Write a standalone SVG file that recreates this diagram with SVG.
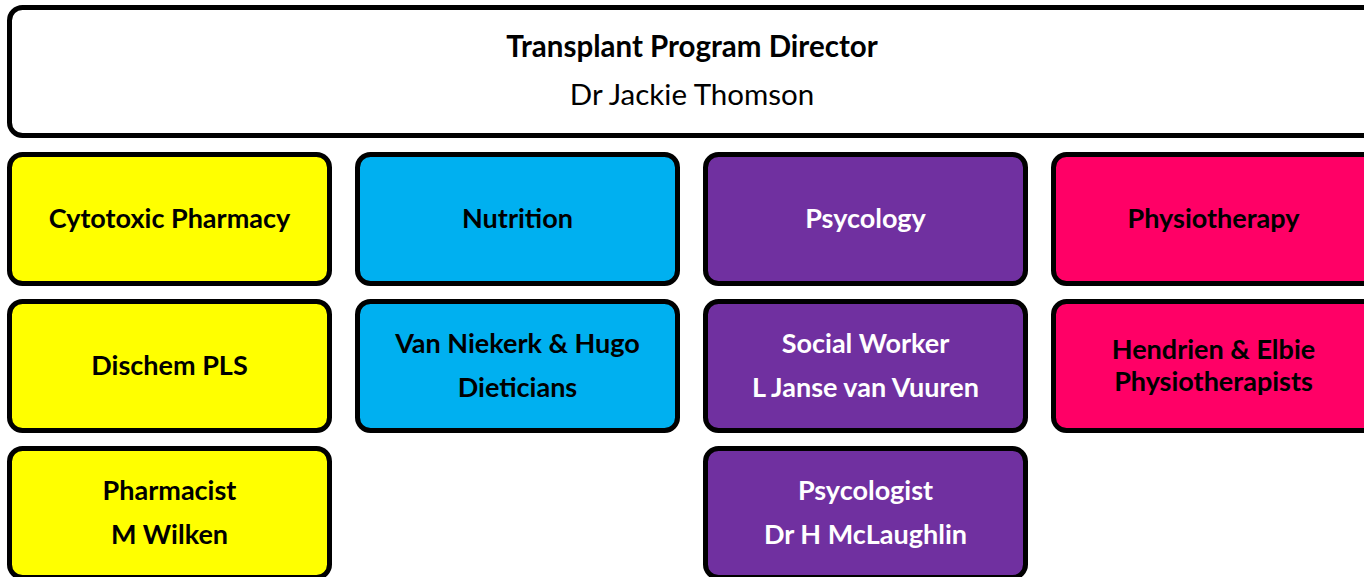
<svg xmlns="http://www.w3.org/2000/svg" width="1364" height="577" viewBox="0 0 1364 577">
<style>
.b{stroke:#000;stroke-width:5}
.t{font-family:Lato,"Open Sans","Liberation Sans",sans-serif;font-weight:bold;font-size:27px;text-anchor:middle}
.h{font-size:29.5px}
.n{font-weight:normal}
.k{fill:#000}.w{fill:#fff}
</style>
<rect width="1364" height="577" fill="#fff"/>
<g id="director">
<rect class="b" x="9.5" y="7.5" width="1380" height="128" rx="13" fill="#fff"/>
<text class="t h k" x="692" y="57">Transplant Program Director</text>
<text class="t h n k" x="692" y="105">Dr Jackie Thomson</text>
</g>
<g id="cytotoxic">
<rect class="b" x="9.5" y="154.5" width="320" height="129" rx="13" fill="#FFFF00"/>
<text class="t k" x="169.5" y="228">Cytotoxic Pharmacy</text>
</g>
<g id="dischem">
<rect class="b" x="9.5" y="301.5" width="320" height="129" rx="13" fill="#FFFF00"/>
<text class="t k" x="169.5" y="375">Dischem PLS</text>
</g>
<g id="pharmacist">
<rect class="b" x="9.5" y="448.5" width="320" height="129" rx="13" fill="#FFFF00"/>
<text class="t k" x="169.5" y="500">Pharmacist</text>
<text class="t k" x="169.5" y="544">M Wilken</text>
</g>
<g id="nutrition">
<rect class="b" x="357.5" y="154.5" width="320" height="129" rx="13" fill="#00B0F0"/>
<text class="t k" x="517.5" y="228">Nutrition</text>
</g>
<g id="dieticians">
<rect class="b" x="357.5" y="301.5" width="320" height="129" rx="13" fill="#00B0F0"/>
<text class="t k" x="517.5" y="353">Van Niekerk &amp; Hugo</text>
<text class="t k" x="517.5" y="397">Dieticians</text>
</g>
<g id="psycology">
<rect class="b" x="705.5" y="154.5" width="320" height="129" rx="13" fill="#7030A0"/>
<text class="t w" x="865.5" y="228">Psycology</text>
</g>
<g id="socialworker">
<rect class="b" x="705.5" y="301.5" width="320" height="129" rx="13" fill="#7030A0"/>
<text class="t w" x="865.5" y="353">Social Worker</text>
<text class="t w" x="865.5" y="397">L Janse van Vuuren</text>
</g>
<g id="psycologist">
<rect class="b" x="705.5" y="448.5" width="320" height="129" rx="13" fill="#7030A0"/>
<text class="t w" x="865.5" y="500">Psycologist</text>
<text class="t w" x="865.5" y="544">Dr H McLaughlin</text>
</g>
<g id="physiotherapy">
<rect class="b" x="1053.5" y="154.5" width="340" height="129" rx="13" fill="#FF0066"/>
<text class="t k" x="1213.5" y="228">Physiotherapy</text>
</g>
<g id="physiotherapists">
<rect class="b" x="1053.5" y="301.5" width="340" height="129" rx="13" fill="#FF0066"/>
<text class="t k" x="1213.5" y="359">Hendrien &amp; Elbie</text>
<text class="t k" x="1213.5" y="391">Physiotherapists</text>
</g>
<g id="connectors"></g>
</svg>
